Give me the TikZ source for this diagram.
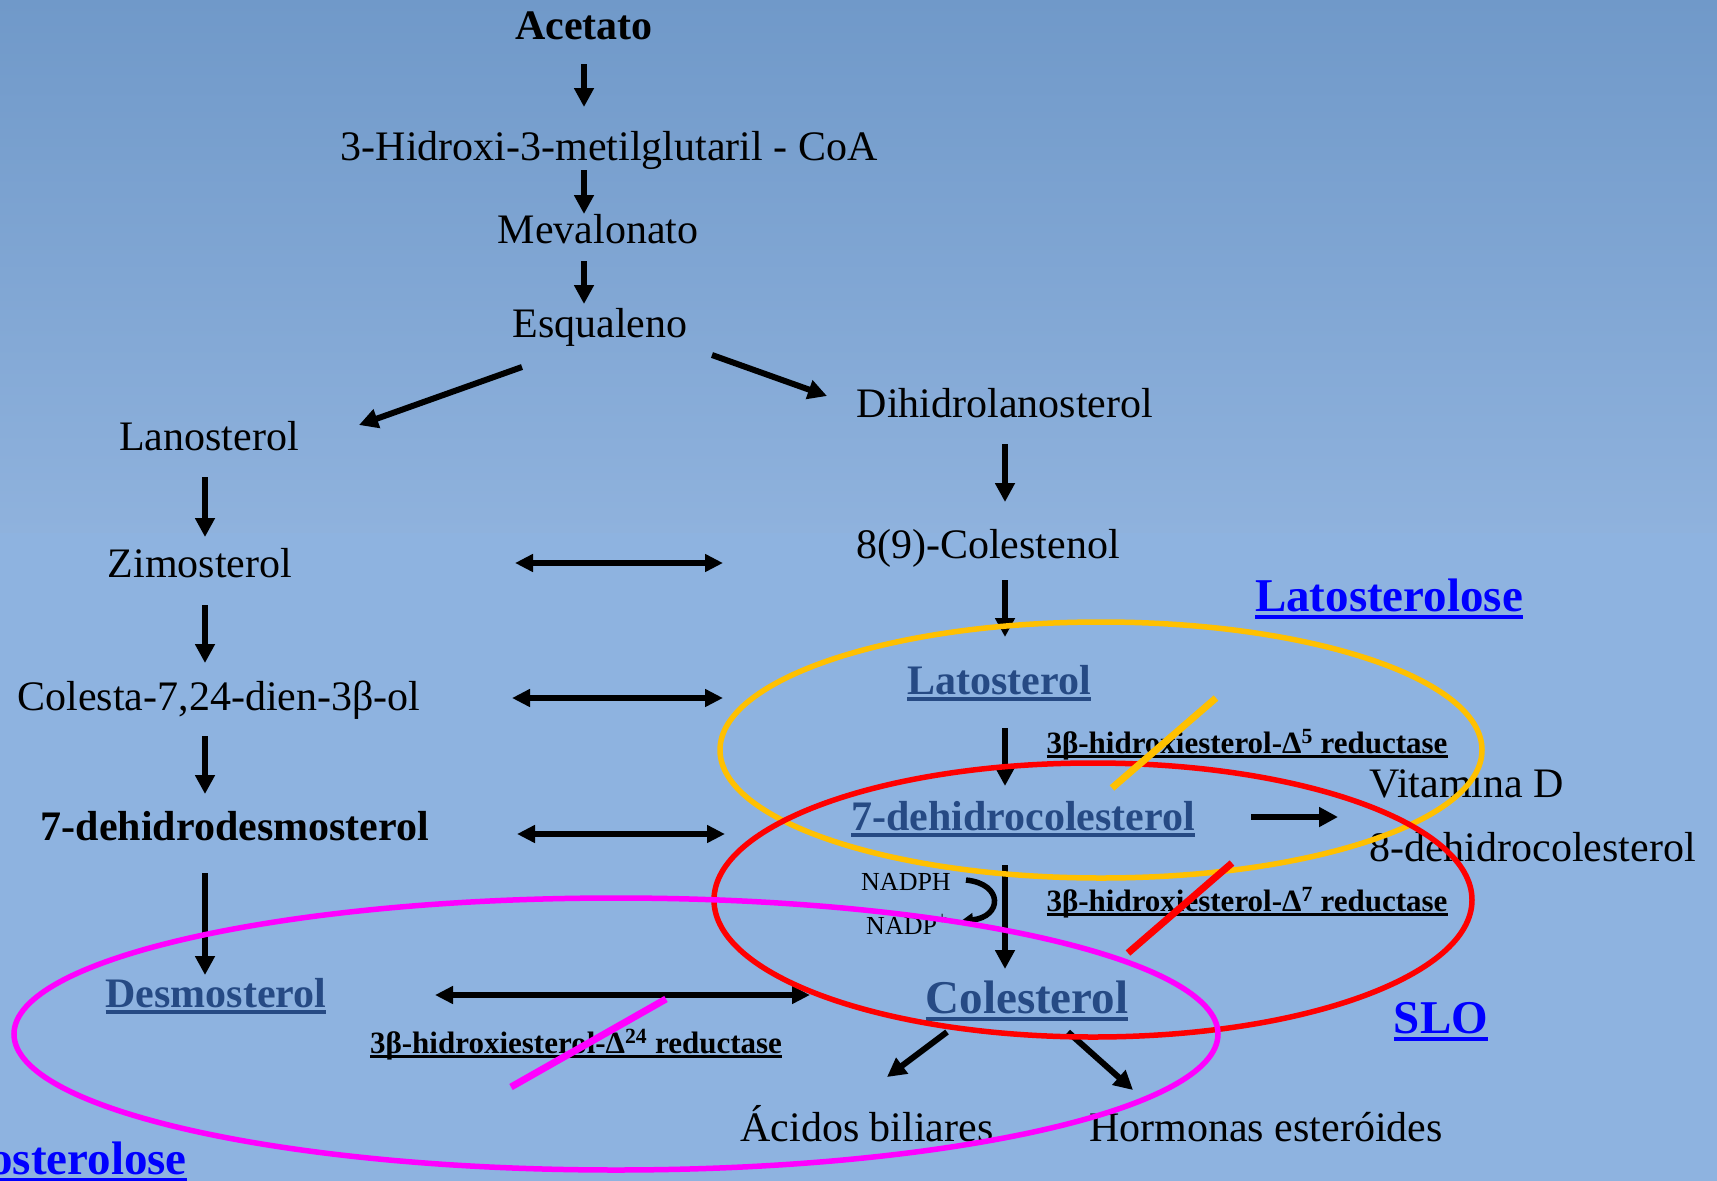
\documentclass[tikz,border=0pt]{standalone}
\usepackage{fontspec}
\setmainfont{Liberation Serif}
\usetikzlibrary{arrows.meta}
\definecolor{bgtop}{RGB}{112,153,201}
\definecolor{bgmid}{RGB}{143,178,221}
\definecolor{bglow}{RGB}{142,179,224}
\definecolor{linkblue}{RGB}{38,74,132}
\definecolor{pureblue}{RGB}{0,0,255}
\definecolor{ellorange}{RGB}{255,192,0}
\definecolor{ellred}{RGB}{255,0,0}
\definecolor{ellmag}{RGB}{255,0,255}
\newcommand\myul[1]{\setbox0\hbox{#1}\rlap{\rule[-0.16em]{\wd0}{0.08em}}\box0}
\tikzset{
  lbl/.style={inner sep=0pt, anchor=base, font=\fontsize{42}{50}\selectfont},
  bl/.style={inner sep=0pt, anchor=base, font=\fontsize{42}{50}\selectfont\bfseries},
  big/.style={inner sep=0pt, anchor=base, font=\fontsize{47}{56}\selectfont\bfseries},
  enz/.style={inner sep=0pt, anchor=base, font=\fontsize{31}{36}\selectfont\bfseries},
  small/.style={inner sep=0pt, anchor=base, font=\fontsize{26}{30}\selectfont},
  arr/.style={line width=6pt, -{Triangle[length=19pt,width=19pt]}},
  darr/.style={line width=6pt, {Triangle[length=18pt,width=17pt]}-{Triangle[length=18pt,width=17pt]}},
  ell/.style={line width=5.5pt},
  slash/.style={line width=7pt}
}
\begin{document}
\begin{tikzpicture}[x=1pt,y=-1pt]
\useasboundingbox (0,0) rectangle (1717,1181);
\shade[top color=bgtop, bottom color=bgmid] (0,0) rectangle (1717,533);
\fill[bglow] (0,533) rectangle (1717,1181);

% nodes
\node[bl] (acet) at (584,39) {Acetato};
\node[lbl] (hmg) at (609,160) {3-Hidroxi-3-metilglutaril - CoA};
\node[lbl] (meval) at (598,243) {Mevalonato};
\node[lbl] (esq) at (600,337) {Esqualeno};
\node[lbl] (lano) at (209,450) {Lanosterol};
\node[lbl] (dihid) at (1005,417) {Dihidrolanosterol};
\node[lbl] (zimo) at (200,577) {Zimosterol};
\node[lbl] (col89) at (988,558) {8(9)-Colestenol};
\node[lbl] (colesta) at (219,710) {Colesta-7,24-dien-3β-ol};
\node[bl, text=linkblue] (lato) at (999,694) {\myul{Latosterol}};
\node[enz] (enz5) at (1247,753) {\myul{3β-hidroxiesterol-Δ\textsuperscript{5} reductase}};
\node[bl] (dd) at (235,840) {7-dehidrodesmosterol};
\node[bl, text=linkblue] (dhc) at (1023,830) {\myul{7-dehidrocolesterol}};
\node[lbl, anchor=base west] (vitd) at (1369,797) {Vitamina D};
\node[lbl, anchor=base west] (dhc8) at (1369,861) {8-dehidrocolesterol};
\node[small] (nadph) at (906,890) {NADPH};
\node[small] (nadp) at (907,934) {NADP\textsuperscript{+}};
\node[enz] (enz7) at (1247,911) {\myul{3β-hidroxiesterol-Δ\textsuperscript{7} reductase}};
\node[bl, text=linkblue] (desmo) at (216,1007) {\myul{Desmosterol}};
\node[big, text=linkblue] (col) at (1027,1013) {\myul{Colesterol}};
\node[enz] (enz24) at (576,1053) {\myul{3β-hidroxiesterol-Δ\textsuperscript{24} reductase}};
\node[lbl] (acid) at (867,1141) {Ácidos biliares};
\node[lbl] (horm) at (1266,1141) {Hormonas esteróides};
\node[big, text=pureblue] (latose) at (1389,611) {\myul{Latosterolose}};
\node[big, text=pureblue] (slo) at (1441,1033) {\myul{SLO}};
\node[big, text=pureblue, anchor=base east] (desose) at (187,1174) {\myul{Desmosterolose}};

% connector end points
\coordinate (a1) at (584,64);  \coordinate (a1e) at (584,107);
\coordinate (a2) at (584,170); \coordinate (a2e) at (584,214);
\coordinate (a3) at (584,261); \coordinate (a3e) at (584,304);
\coordinate (a4) at (522,367); \coordinate (a4e) at (359,425);
\coordinate (a5) at (712,355); \coordinate (a5e) at (827,396);
\coordinate (a6) at (1005,444); \coordinate (a6e) at (1005,502);
\coordinate (a7) at (205,477); \coordinate (a7e) at (205,537);
\coordinate (a8) at (205,605); \coordinate (a8e) at (205,663);
\coordinate (a9) at (1005,580); \coordinate (a9e) at (1005,637);
\coordinate (a10) at (205,736); \coordinate (a10e) at (205,794);
\coordinate (a11) at (1005,728); \coordinate (a11e) at (1005,786);
\coordinate (a12) at (205,873); \coordinate (a12e) at (205,975);
\coordinate (a13) at (1005,865); \coordinate (a13e) at (1005,969);
\coordinate (a14) at (1251,817); \coordinate (a14e) at (1338,817);
\coordinate (a15) at (947,1032); \coordinate (a15e) at (887,1077);
\coordinate (a16) at (1068,1032); \coordinate (a16e) at (1133,1090);
\coordinate (d1) at (515,563); \coordinate (d1e) at (723,563);
\coordinate (d2) at (512,698); \coordinate (d2e) at (723,698);
\coordinate (d3) at (517,834); \coordinate (d3e) at (725,834);
\coordinate (d4) at (435,995); \coordinate (d4e) at (810,995);
\coordinate (cs) at (966,880); \coordinate (ce) at (961,921);

\draw[arr] (a1) -- (a1e);
\draw[arr] (a2) -- (a2e);
\draw[arr] (a3) -- (a3e);
\draw[arr] (a4) -- (a4e);
\draw[arr] (a5) -- (a5e);
\draw[arr] (a6) -- (a6e);
\draw[arr] (a7) -- (a7e);
\draw[arr] (a8) -- (a8e);
\draw[arr] (a9) -- (a9e);
\draw[arr] (a10) -- (a10e);
\draw[arr] (a11) -- (a11e);
\draw[arr] (a12) -- (a12e);
\draw[arr] (a13) -- (a13e);
\draw[arr] (a14) -- (a14e);
\draw[arr] (a15) -- (a15e);
\draw[arr] (a16) -- (a16e);
\draw[darr] (d1) -- (d1e);
\draw[darr] (d2) -- (d2e);
\draw[darr] (d3) -- (d3e);
\draw[darr] (d4) -- (d4e);
\draw[line width=5.5pt, -{Triangle[length=12pt,width=13pt]}] (cs) .. controls (1004,884) and (1002,917) .. (ce);

% ellipses and slashes
\draw[ell, ellorange] (1101,750) ellipse [x radius=381, y radius=128];
\draw[ell, ellred] (1093,900) ellipse [x radius=379, y radius=137];
\draw[ell, ellmag] (616,1034) ellipse [x radius=602, y radius=136];
\coordinate (so1) at (1216,698); \coordinate (so2) at (1112,788);
\coordinate (sr1) at (1232,863); \coordinate (sr2) at (1128,953);
\coordinate (sm1) at (666,999); \coordinate (sm2) at (511,1087);
\draw[slash, ellorange] (so1) -- (so2);
\draw[slash, ellred] (sr1) -- (sr2);
\draw[slash, ellmag] (sm1) -- (sm2);
\end{tikzpicture}
\end{document}
